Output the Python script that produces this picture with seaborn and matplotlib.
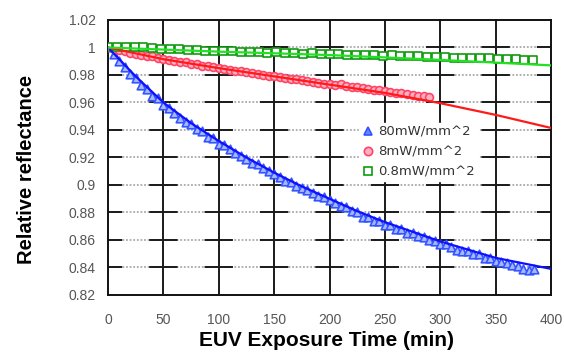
import numpy as np
import pandas as pd
import matplotlib
matplotlib.use("Agg")
import matplotlib.pyplot as plt
import seaborn as sns
from matplotlib.lines import Line2D

# ---- data ----
series_labels = ["80mW/mm^2", "8mW/mm^2", "0.8mW/mm^2"]

blue_t = np.arange(0, 390, 5)
blue_y = [1.000, 0.995, 0.990, 0.986, 0.981, 0.978, 0.973, 0.970, 0.965, 0.963,
          0.958, 0.956, 0.952, 0.949, 0.946, 0.944, 0.941, 0.939, 0.935, 0.934,
          0.930, 0.929, 0.926, 0.923, 0.921, 0.919, 0.916, 0.915, 0.912, 0.910,
          0.908, 0.906, 0.903, 0.902, 0.899, 0.898, 0.896, 0.894, 0.892, 0.891,
          0.889, 0.887, 0.885, 0.884, 0.881, 0.880, 0.877, 0.877, 0.874, 0.874,
          0.871, 0.871, 0.868, 0.868, 0.865, 0.865, 0.863, 0.862, 0.860, 0.859,
          0.857, 0.857, 0.855, 0.853, 0.852, 0.852, 0.850, 0.850, 0.847, 0.847,
          0.845, 0.844, 0.843, 0.842, 0.841, 0.839, 0.838, 0.839]

red_t = np.arange(0, 295, 5)
red_y = [1.000, 0.999, 0.998, 0.9975, 0.996, 0.9955, 0.9948, 0.994, 0.9935, 0.9925,
         0.9918, 0.991, 0.9905, 0.9895, 0.9892, 0.9883, 0.9878, 0.9868, 0.9862, 0.9855,
         0.9852, 0.9845, 0.9838, 0.9832, 0.9826, 0.9822, 0.9815, 0.9808, 0.9803, 0.9795,
         0.9792, 0.9785, 0.978, 0.9772, 0.9768, 0.9762, 0.9757, 0.9748, 0.9745, 0.9738,
         0.9734, 0.9728, 0.9732, 0.9722, 0.9716, 0.971, 0.9705, 0.9698, 0.9692, 0.9688,
         0.968, 0.9677, 0.967, 0.9666, 0.966, 0.9655, 0.9648, 0.9645, 0.9638]

green_t = np.arange(0, 390, 8)
green_y = [1.0005, 1.0004, 1.0003, 1.0001, 1.0000, 0.9993, 0.9990, 0.9986, 0.9988, 0.9982,
           0.9980, 0.9978, 0.9975, 0.9972, 0.9974, 0.9969, 0.9968, 0.9965, 0.9962, 0.9964,
           0.9958, 0.9960, 0.9955, 0.9957, 0.9953, 0.9951, 0.9954, 0.9948, 0.9946, 0.9948,
           0.9943, 0.9941, 0.9944, 0.9938, 0.9936, 0.9937, 0.9932, 0.9930, 0.9932, 0.9927,
           0.9925, 0.9927, 0.9921, 0.9923, 0.9918, 0.9916, 0.9918, 0.9912, 0.9910]

blue_fit_t = [0, 25, 50, 75, 100, 125, 150, 175, 200, 225, 250, 275, 300, 325, 350, 375, 400]
blue_fit_y = [1.000, 0.979, 0.960, 0.945, 0.932, 0.920, 0.909, 0.899, 0.890, 0.881,
              0.873, 0.866, 0.859, 0.853, 0.847, 0.843, 0.839]
red_fit_t = [0, 50, 100, 150, 200, 250, 300, 350, 400]
red_fit_y = [1.0, 0.9915, 0.985, 0.979, 0.973, 0.967, 0.9595, 0.951, 0.9415]
green_fit_t = [0, 50, 100, 150, 200, 250, 300, 350, 400]
green_fit_y = [1.0, 0.9985, 0.997, 0.9958, 0.9945, 0.9928, 0.991, 0.989, 0.987]

x_ticks = [0, 50, 100, 150, 200, 250, 300, 350, 400]
y_ticks = [0.82, 0.84, 0.86, 0.88, 0.90, 0.92, 0.94, 0.96, 0.98, 1.00, 1.02]
y_tick_labels = ["0.82", "0.84", "0.86", "0.88", "0.9", "0.92", "0.94", "0.96", "0.98", "1", "1.02"]

assert len(blue_t) == len(blue_y) and len(red_t) == len(red_y) and len(green_t) == len(green_y)

# ---- styling ----
sns.set_theme(style="white")
plt.rcParams['font.family'] = ['Liberation Sans', 'DejaVu Sans']
plt.rcParams['lines.scale_dashes'] = False

W, H = 564, 356
fig = plt.figure(figsize=(W / 100, H / 100), dpi=100)
ax_l, ax_r, ax_t, ax_b = 108, 551, 20, 295
ax = fig.add_axes([ax_l / W, 1 - ax_b / H, (ax_r - ax_l) / W, (ax_b - ax_t) / H])

grid_c = "#1a1a1a"
px = 0.72  # points per pixel
period = (ax_r - ax_l) / 8.0
gap = 27.0
solid = period - gap
h_style = (solid / 2 * px, (solid * px, gap * px))
for xt in x_ticks[1:-1]:
    ax.axvline(xt, color=grid_c, lw=1.4, zorder=0)
for yt in y_ticks[1:-1]:
    ax.axhline(yt, color="#9a9a9a", lw=1.1, zorder=0, linestyle=(0, (1.3, 1.3)))
    ax.axhline(yt, color=grid_c, lw=1.4, zorder=0, linestyle=h_style)

styles = {
    "blue": dict(line="#1010ff", edge="#3355ff", face="#a8b8ff", marker="^", size=38),
    "red": dict(line="#ff1a1a", edge="#ff4466", face="#ffb0c0", marker="o", size=32),
    "green": dict(line="#22e022", edge="#119911", face="#ffffff", marker="s", size=30),
}

pts = [(blue_t, blue_y, "blue"), (red_t, red_y, "red"), (green_t, green_y, "green")]
fits = [(blue_fit_t, blue_fit_y, "blue"), (red_fit_t, red_fit_y, "red"), (green_fit_t, green_fit_y, "green")]

for t, y, k in pts:
    s = styles[k]
    sns.scatterplot(x=t, y=y, ax=ax, marker=s["marker"], s=s["size"],
                    facecolor=s["face"], edgecolor=s["edge"], linewidth=1.2, zorder=3)
for t, y, k in fits:
    s = styles[k]
    sns.lineplot(x=t, y=y, ax=ax, color=s["line"], lw=1.6, zorder=4,
                 estimator=None, sort=False)

ax.set_xlim(0, 400)
ax.set_ylim(0.82, 1.02)
ax.set_xticks(x_ticks)
ax.set_xticklabels([str(v) for v in x_ticks])
ax.set_yticks(y_ticks)
ax.set_yticklabels(y_tick_labels)
ax.tick_params(axis="x", length=0, pad=13, labelsize=10, labelcolor="#555555")
ax.tick_params(axis="y", length=0, pad=9, labelsize=10, labelcolor="#555555")

for sp in ax.spines.values():
    sp.set_color("#111111")
    sp.set_linewidth(1.4)

ax.set_xlabel("EUV Exposure Time (min)", fontsize=15, fontweight="bold", color="black")
ax.set_ylabel("Relative reflectance", fontsize=14.5, fontweight="bold", color="black")
ax.xaxis.set_label_coords(0.494, -0.132)
ax.yaxis.set_label_coords(-0.162, 0.455)

handles = []
for k in ["blue", "red", "green"]:
    s = styles[k]
    handles.append(Line2D([], [], linestyle="none", marker=s["marker"], markersize=6,
                          markerfacecolor=s["face"] if k != "blue" else "#6688ff",
                          markeredgecolor=s["edge"], markeredgewidth=1.2))
leg = ax.legend(handles, series_labels, loc="upper left", bbox_to_anchor=(0.551, 0.651),
                frameon=True, facecolor="white", edgecolor="white", framealpha=1,
                handletextpad=0.3, handlelength=1.0, labelspacing=0.55,
                borderpad=0.2, prop={"family": "DejaVu Sans", "size": 9.5})
for txt in leg.get_texts():
    txt.set_color("#333333")
leg.set_zorder(5)

fig.savefig("out.png", dpi=100)
